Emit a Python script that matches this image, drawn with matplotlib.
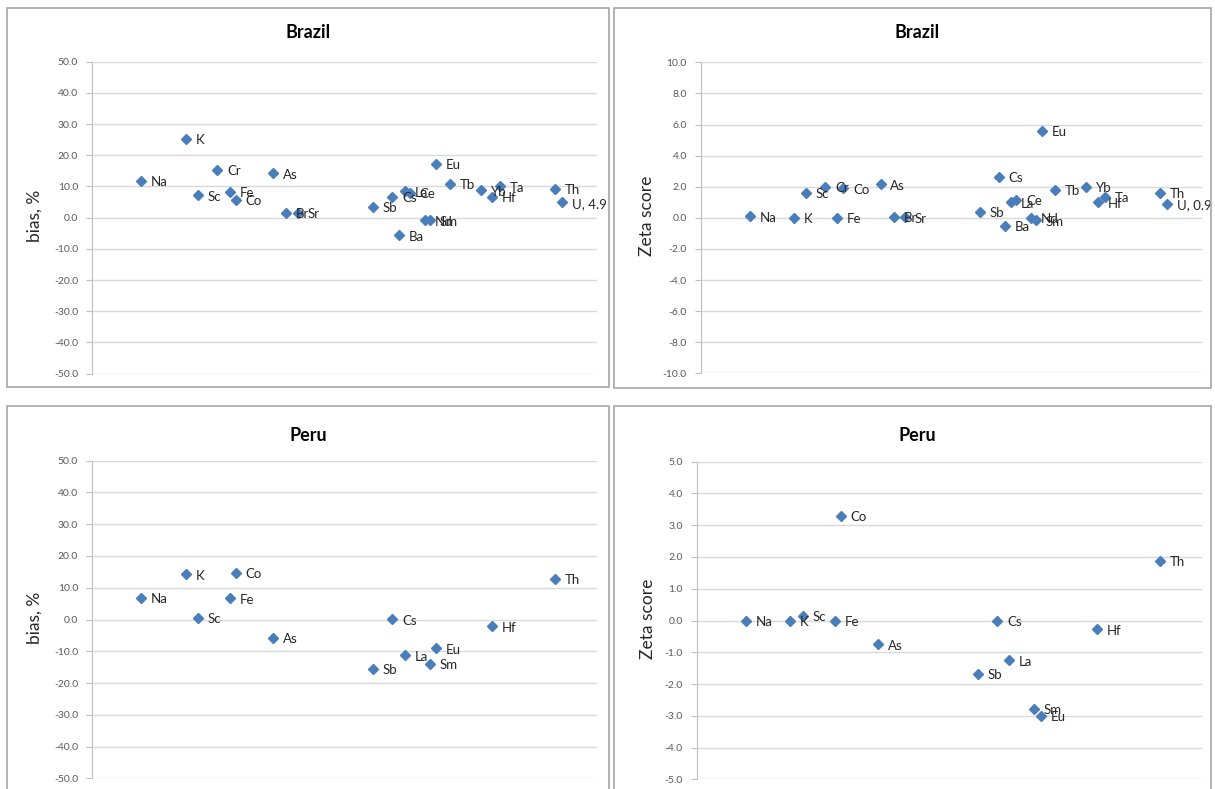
import matplotlib
matplotlib.use("Agg")
import matplotlib.pyplot as plt
from matplotlib.patches import Rectangle

plt.rcParams['font.family'] = ['Lato', 'DejaVu Sans']

# position of each element along the (hidden) x axis
elements = ["Na", "K", "Sc", "Cr", "Fe", "Co", "As", "Br", "Sr", "Sb", "Cs", "Ba",
            "La", "Ce", "Nd", "Sm", "Eu", "Tb", "Yb", "Hf", "Ta", "Th", "U"]
x_pos = [9.8, 18.55, 21.0, 24.85, 27.3, 28.5, 35.9, 38.5, 40.7, 55.7, 59.5, 60.75,
         61.9, 63.0, 65.9, 66.85, 68.15, 70.8, 77.0, 79.3, 80.75, 91.75, 93.05]

brazil_el = ["Na", "K", "Sc", "Cr", "Fe", "Co", "As", "Br", "Sr", "Sb", "Cs", "Ba",
             "La", "Ce", "Nd", "Sm", "Eu", "Tb", "Yb", "Hf", "Ta", "Th", "U"]
brazil_bias = [11.9, 25.3, 7.2, 15.3, 8.3, 5.7, 14.2, 1.5, 1.5, 3.4, 6.6, -5.6,
               8.5, 7.9, -0.8, -0.8, 17.2, 10.9, 8.8, 6.6, 10.1, 9.3, 4.9]
brazil_zeta = [0.1, 0.02, 1.6, 2.0, 0.0, 1.9, 2.15, 0.08, 0.04, 0.37, 2.65, -0.5,
               1.0, 1.15, 0.0, -0.17, 5.6, 1.8, 2.0, 1.0, 1.35, 1.6, 0.9]

peru_el = ["Na", "K", "Sc", "Fe", "Co", "As", "Sb", "Cs", "La", "Sm", "Eu", "Hf", "Th"]
peru_bias = [6.8, 14.2, 0.6, 6.7, 14.7, -5.7, -15.6, 0.1, -11.3, -13.9, -9.1, -2.1, 12.8]
peru_zeta = [0.0, 0.0, 0.15, 0.0, 3.3, -0.75, -1.67, 0.0, -1.25, -2.79, -3.0, -0.28, 1.88]

with_value = ["U"]

W, H = 1215, 789
fig = plt.figure(figsize=(W / 100, H / 100), dpi=100)


def fx(px):
    return px / W


def fy(py):
    return 1 - py / H


# chart frames
for x0, y0, x1, y1 in [(7, 8, 609, 387), (614, 8, 1211, 388),
                       (7, 406, 609, 792), (614, 406, 1211, 792)]:
    fig.add_artist(Rectangle((fx(x0), fy(y1)), fx(x1 - x0), (y1 - y0) / H,
                             transform=fig.transFigure, fill=False,
                             edgecolor="#a6a6a6", linewidth=1.2))

panels = [
    # left, right, top, bottom (px), title, ylabel, ylim, step, names, values, title xy, ylabel x
    (92, 597, 61.7, 373.7, "Brazil", "bias, %", 50, 10, brazil_el, brazil_bias, 308, 32, 35),
    (700.7, 1201.7, 62.3, 373.4, "Brazil", "Zeta score", 10, 2, brazil_el, brazil_zeta, 917, 32, 647),
    (92, 597, 460.7, 778.3, "Peru", "bias, %", 50, 10, peru_el, peru_bias, 308, 435, 35),
    (696.7, 1201.7, 461.7, 779.3, "Peru", "Zeta score", 5, 1, peru_el, peru_zeta, 917, 435, 648),
]

for (l, r, t, b, title, ylab, lim, step, names, vals, tx, ty, lx) in panels:
    ax = fig.add_axes([fx(l), fy(b), (r - l) / W, (b - t) / H])
    xs = [x_pos[elements.index(n)] for n in names]
    ax.plot(xs, vals, linestyle="none", marker="D", markersize=4.8,
            color="#4a7ebb", zorder=3)
    for n, x, v in zip(names, xs, vals):
        txt = f"{n}, {v:.1f}" if n in with_value else n
        ax.annotate(txt, (x, v), xytext=(7, -1), textcoords="offset points",
                    ha="left", va="center", fontsize=9.5, color="#262626", zorder=4)

    ax.set_xlim(0, 100)
    ax.set_ylim(-lim, lim)
    ticks = [i * step for i in range(-int(lim / step), int(lim / step) + 1)]
    ax.set_yticks(ticks)
    ax.set_yticklabels([f"{v:.1f}" for v in ticks])
    ax.set_xticks([])
    ax.grid(axis="y", color="#d9d9d9", linewidth=1)
    ax.set_axisbelow(True)
    for s in ["top", "right", "bottom"]:
        ax.spines[s].set_visible(False)
    ax.spines["left"].set_color("#bfbfbf")
    ax.tick_params(axis="y", direction="out", length=4, color="#bfbfbf",
                   labelsize=7.5, labelcolor="#595959", pad=6)

    fig.text(fx(tx), fy(ty), title, ha="center", va="center",
             fontsize=13, fontweight="bold", color="#000000")
    fig.text(fx(lx), fy((t + b) / 2 - 2), ylab, ha="center", va="center",
             rotation=90, fontsize=12.5, color="#262626")

fig.savefig("out.png", dpi=100)
